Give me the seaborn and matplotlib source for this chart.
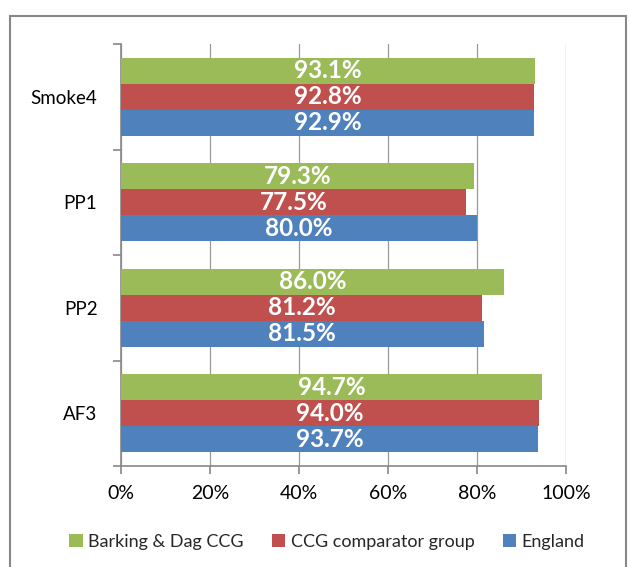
import matplotlib
matplotlib.use("Agg")
import matplotlib.pyplot as plt
import seaborn as sns
import pandas as pd
from matplotlib.patches import Rectangle
from matplotlib.ticker import FuncFormatter

categories = ["Smoke4", "PP1", "PP2", "AF3"]
series_names = ["Barking & Dag CCG", "CCG comparator group", "England"]
barking = [93.1, 79.3, 86.0, 94.7]
comparator = [92.8, 77.5, 81.2, 94.0]
england = [92.9, 80.0, 81.5, 93.7]
x_ticks = [0, 20, 40, 60, 80, 100]
colors = ["#9BBB59", "#C0504D", "#4F81BD"]

rows = []
for name, vals in zip(series_names, [barking, comparator, england]):
    for c, v in zip(categories, vals):
        rows.append({"cat": c, "series": name, "value": v})
df = pd.DataFrame(rows)

sns.set_theme(style="white")
plt.rcParams["font.family"] = ["Lato", "DejaVu Sans"]

fig = plt.figure(figsize=(6.3, 5.67), dpi=100)
ax = fig.add_axes([121/630, 1-466/567, (566-121)/630, (466-44)/567])

sns.barplot(data=df, y="cat", x="value", hue="series", order=categories,
            hue_order=series_names, palette=colors, orient="h", width=0.74,
            saturation=1, ax=ax, legend=True, zorder=3, linewidth=0)

ax.set_xlim(0, 100)
ax.set_ylim(3.5, -0.5)
ax.set_xticks(x_ticks)
ax.xaxis.set_major_formatter(FuncFormatter(lambda v, p: f"{v:.0f}%"))
ax.set_xlabel("")
ax.set_ylabel("")
ax.grid(axis="x", color="#999999", linewidth=0.9, zorder=0)
ax.set_axisbelow(True)

for s in ["top", "right"]:
    ax.spines[s].set_visible(False)
for s in ["left", "bottom"]:
    ax.spines[s].set_color("#888888")
    ax.spines[s].set_linewidth(1.2)

ax.set_yticks([-0.5, 0.5, 1.5, 2.5, 3.5], minor=True)
ax.tick_params(axis="y", which="major", length=0, labelsize=13.5, pad=17, colors="#000000")
ax.tick_params(axis="y", which="minor", length=6, width=1.2, color="#888888", direction="out", left=True)
ax.tick_params(axis="x", which="major", length=6, width=1.2, color="#888888", direction="out",
               bottom=True, labelsize=14, pad=8, labelcolor="#000000")

for cont in ax.containers:
    labels = [f"{b.get_width():.1f}%" for b in cont]
    ax.bar_label(cont, labels=labels, label_type="center", color="white",
                 fontsize=17.5, fontweight="bold", zorder=4)

handles, labs = ax.get_legend_handles_labels()
ax.get_legend().remove()
fig.legend(handles, labs, loc="center", bbox_to_anchor=(327/630, 1-542/567), ncol=3,
           frameon=False, fontsize=13, handlelength=0.75, handleheight=0.75,
           handletextpad=0.3, columnspacing=1.55)

fig.patches.append(Rectangle((10/630, -0.1), (626-10)/630, 1.1-16/567,
                             transform=fig.transFigure, fill=False,
                             edgecolor="#888888", linewidth=1.5))

fig.savefig("out.png", dpi=100)
